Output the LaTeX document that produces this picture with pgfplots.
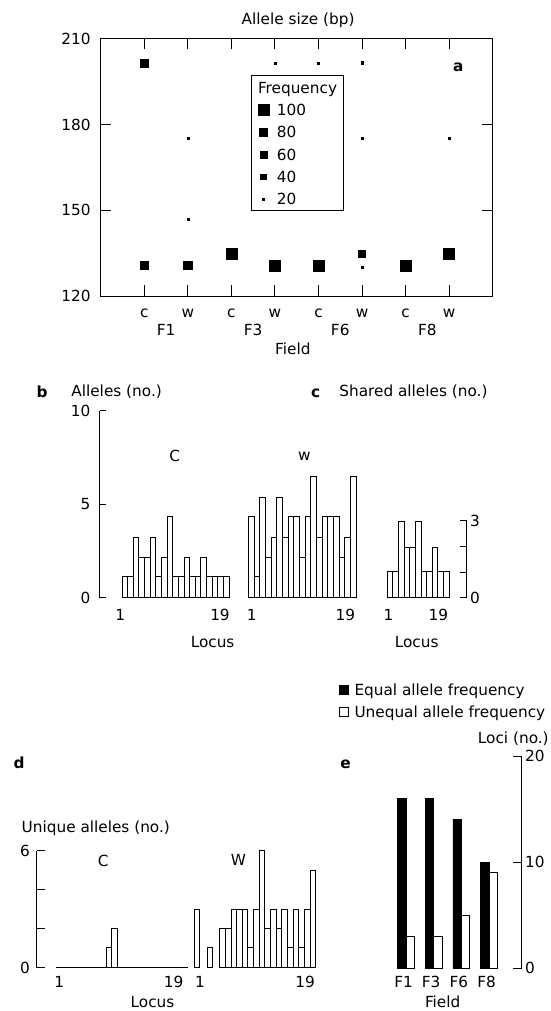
\documentclass[border=0pt]{standalone}
\usepackage{fontspec}
\setmainfont{DejaVu Sans}
\usepackage{pgfplots}
\pgfplotsset{compat=1.18}
\pgfplotsset{
  every axis/.append style={scale only axis, clip=false, anchor=south west,
    /pgf/number format/assume math mode=true,
    axis line style={line width=0.9pt, black},
    every tick/.style={black, line width=0.9pt},
    tick align=inside},
  wbar/.style={ybar, bar width=1, bar shift=0pt, fill=white, draw=black, line width=0.9pt},
}
\begin{document}
\fontsize{15.3}{18}\selectfont
\begin{tikzpicture}[line width=0.9pt]
\useasboundingbox (0,0) rectangle (550pt,1011pt);

% ---------------- panel a ----------------
\begin{axis}[at={(100.7pt,715pt)}, width=392pt, height=257.3pt,
  xmin=0, xmax=9, ymin=120, ymax=210,
  xtick={1,...,8}, xticklabels={c,w,c,w,c,w,c,w},
  ytick={120,150,180,210}, major tick length=10.5pt,
  xticklabel style={anchor=base, inner sep=0pt, yshift=-21.5pt},
  yticklabel style={anchor=east, inner sep=0pt, xshift=-10pt},
  legend style={at={(0.401,0.7478)}, anchor=north west, draw=none, fill=none,
    inner sep=0pt, outer sep=0pt, row sep=7.25pt, column sep=8.1pt,
    nodes={inner sep=0pt, text height=12pt, text depth=3pt, anchor=base west}},
  legend cell align=left,
  legend image code/.code={\draw[#1] plot coordinates {(0pt,5.6pt)};}]
\addplot[only marks, mark=square*, mark size=5.45pt, forget plot] coordinates {(3,134.7) (4,130.5) (5,130.5) (7,130.7) (8,134.8)};
\addplot[only marks, mark=square*, mark size=4.25pt, forget plot] coordinates {(1,130.8) (2,130.8)};
\addplot[only marks, mark=square*, mark size=3.65pt, forget plot] coordinates {(1,201.4) (6,134.8)};
\addplot[only marks, mark=square*, mark size=1.05pt, forget plot] coordinates {(2,175.2) (2,146.9) (4,201.4) (5,201.4) (6,201.6) (6,175.2) (6,130.2) (8,175.3)};
\addlegendimage{only marks, mark=square*, mark size=5.45pt}\addlegendentry{100}
\addlegendimage{only marks, mark=square*, mark size=4.0pt}\addlegendentry{80}
\addlegendimage{only marks, mark=square*, mark size=3.6pt}\addlegendentry{60}
\addlegendimage{only marks, mark=square*, mark size=2.7pt}\addlegendentry{40}
\addlegendimage{only marks, mark=square*, mark size=1.0pt}\addlegendentry{20}
\node[anchor=base] at (axis cs:1.5,120) [yshift=-39.6pt] {F1};
\node[anchor=base] at (axis cs:3.5,120) [yshift=-39.6pt] {F3};
\node[anchor=base] at (axis cs:5.5,120) [yshift=-39.6pt] {F6};
\node[anchor=base] at (axis cs:7.5,120) [yshift=-39.6pt] {F8};
\end{axis}
\draw[line width=0.9pt] (251.5pt,935.7pt) rectangle (343pt,800.3pt);
\node[anchor=base west, inner sep=0pt] at (257.8pt,917.1pt) {Frequency};
\node[anchor=base, inner sep=0pt] at (298.1pt,986.1pt) {Allele size (bp)};
\node[anchor=base, inner sep=0pt] at (458.3pt,939.5pt) {\bfseries a};
\node[anchor=base, inner sep=0pt] at (292.9pt,656.1pt) {Field};

% ---------------- panel b ----------------
\begin{axis}[at={(99.7pt,413.3pt)}, width=129.3pt, height=187pt,
  xmin=-3.46, xmax=19.5, ymin=0, ymax=10,
  axis y line*=left, axis x line*=bottom, x axis line style={draw=none},
  xtick={0.2,17.9}, xticklabels={1,19}, xtick style={draw=none},
  ytick={0,5,10}, major tick length=6.7pt,
  xticklabel style={anchor=base, inner sep=0pt, yshift=-23.2pt},
  yticklabel style={anchor=east, inner sep=0pt, xshift=-9.2pt}]
\addplot[wbar] coordinates {(1,1.12) (2,1.12) (3,3.24) (4,2.16) (5,2.16) (6,3.24) (7,1.12) (8,2.16) (9,4.35) (10,1.12) (11,1.12) (12,2.16) (13,1.12) (14,1.12) (15,2.16) (16,1.12) (17,1.12) (18,1.12) (19,1.12)};
\end{axis}
\begin{axis}[at={(248.3pt,413.3pt)}, width=107.7pt, height=187pt,
  xmin=0.5, xmax=19.5, ymin=0, ymax=10,
  axis y line=none, axis x line*=bottom, x axis line style={draw=none},
  xtick={1.12,17.64}, xticklabels={1,19}, xtick style={draw=none},
  xticklabel style={anchor=base, inner sep=0pt, yshift=-23.2pt}]
\addplot[wbar] coordinates {(1,4.35) (2,1.12) (3,5.37) (4,2.16) (5,3.24) (6,5.37) (7,3.24) (8,4.35) (9,4.35) (10,2.16) (11,4.35) (12,6.47) (13,3.24) (14,4.35) (15,4.35) (16,4.35) (17,2.16) (18,3.24) (19,6.47)};
\end{axis}
\node[anchor=base, inner sep=0pt] at (42.1pt,613.7pt) {\bfseries b};
\node[anchor=base, inner sep=0pt] at (116.6pt,614pt) {Alleles (no.)};
\node[anchor=base, inner sep=0pt] at (174.7pt,549.4pt) {C};
\node[anchor=base, inner sep=0pt] at (304.5pt,550.1pt) {w};
\node[anchor=base, inner sep=0pt] at (212.6pt,363.7pt) {Locus};

% ---------------- panel c ----------------
\begin{axis}[at={(387.3pt,413.3pt)}, width=79.4pt, height=77pt,
  xmin=0.5, xmax=14.66, ymin=0, ymax=3,
  axis y line*=right, axis x line*=bottom, x axis line style={draw=none},
  xtick={0.73,9.6}, xticklabels={1,19}, xtick style={draw=none},
  ytick={0,1,2,3}, yticklabels={0,{},{},3}, major tick length=6.7pt,
  xticklabel style={anchor=base, inner sep=0pt, yshift=-23.2pt},
  yticklabel style={anchor=west, inner sep=0pt, xshift=3.3pt}]
\addplot[wbar] coordinates {(1,1.04) (2,1.04) (3,2.97) (4,1.95) (5,1.95) (6,2.97) (7,1.04) (8,1.04) (9,1.95) (10,1.04) (11,1.04)};
\end{axis}
\node[anchor=base, inner sep=0pt] at (315.7pt,613.7pt) {\bfseries c};
\node[anchor=base, inner sep=0pt] at (413.4pt,614pt) {Shared alleles (no.)};
\node[anchor=base, inner sep=0pt] at (416.7pt,363.7pt) {Locus};

% ---------------- panel d ----------------
\begin{axis}[at={(36.7pt,43.3pt)}, width=151pt, height=117pt,
  xmin=-3.77, xmax=22.96, ymin=0, ymax=6,
  axis y line*=left, axis x line*=bottom, x axis line style={draw=none},
  xtick={0.23,20.46}, xticklabels={1,19}, xtick style={draw=none},
  ytick={0,2,4,6}, yticklabels={0,{},{},6}, major tick length=8.3pt,
  xticklabel style={anchor=base, inner sep=0pt, yshift=-19.6pt},
  yticklabel style={anchor=east, inner sep=0pt, xshift=-6.7pt}]
\addplot[black, line width=0.9pt] coordinates {(-0.35,0) (22.96,0)};
\addplot[wbar] coordinates {(9,1.05) (10,2)};
\end{axis}
\begin{axis}[at={(188.6pt,43.3pt)}, width=127.1pt, height=117pt,
  xmin=-3, xmax=19.5, ymin=0, ymax=6,
  axis y line=none, axis x line*=bottom, x axis line style={draw=none},
  xtick={-0.98,17.64}, xticklabels={1,19}, xtick style={draw=none},
  xticklabel style={anchor=base, inner sep=0pt, yshift=-19.6pt}]
\addplot[wbar, bar shift=-14.3pt] coordinates {(1,3)};
\addplot[wbar, bar shift=-6.95pt] coordinates {(2,1.05)};
\addplot[wbar] coordinates {(3,2) (4,2) (5,3) (6,3) (7,3) (8,1.05) (9,3) (10,6) (11,2) (12,3) (13,2) (14,3) (15,1.05) (16,3) (17,1.05) (18,3) (19,5)};
\end{axis}
\node[anchor=base, inner sep=0pt] at (19pt,242.7pt) {\bfseries d};
\node[anchor=base, inner sep=0pt] at (95.8pt,178.7pt) {Unique alleles (no.)};
\node[anchor=base, inner sep=0pt] at (103.3pt,144.7pt) {C};
\node[anchor=base, inner sep=0pt] at (238.5pt,145.4pt) {W};
\node[anchor=base, inner sep=0pt] at (152.5pt,3.7pt) {Locus};

% ---------------- panel e ----------------
\begin{axis}[at={(392.2pt,42.7pt)}, width=129.5pt, height=212.3pt,
  xmin=0.5, xmax=5.18, ymin=0, ymax=20,
  axis y line*=right, axis x line*=bottom, x axis line style={draw=none},
  xtick={1,2,3,4}, xticklabels={F1,F3,F6,F8}, xtick style={draw=none},
  ytick={0,10,20}, major tick length=8.3pt,
  xticklabel style={anchor=base, inner sep=0pt, yshift=-19pt, xshift=-2.5pt},
  yticklabel style={anchor=west, inner sep=0pt, xshift=3.3pt},
  legend style={at={(-0.4085,1.3363)}, anchor=north west, draw=none, fill=none,
    inner sep=0pt, outer sep=0pt, row sep=8.3pt, column sep=5.5pt,
    nodes={inner sep=0pt, text height=11pt, text depth=3pt, anchor=base west}},
  legend cell align=left,
  legend image code/.code={\draw[#1,/tikz/.cd,line width=0.9pt] (0pt,1.2pt) rectangle (8.8pt,10pt);}]
\addplot[ybar, bar width=8.4pt, bar shift=-4.2pt, fill=black, draw=black, line width=0.9pt] coordinates {(1,16) (2,16) (3,14) (4,10)};
\addlegendentry{Equal allele frequency}
\addplot[ybar, bar width=8.4pt, bar shift=4.2pt, fill=white, draw=black, line width=0.9pt] coordinates {(1,3) (2,3) (3,5) (4,9)};
\addlegendentry{Unequal allele frequency}
\end{axis}
\node[anchor=base, inner sep=0pt] at (345.5pt,242.7pt) {\bfseries e};
\node[anchor=base, inner sep=0pt] at (513.3pt,267.1pt) {Loci (no.)};
\node[anchor=base, inner sep=0pt] at (442.7pt,3.7pt) {Field};
\end{tikzpicture}
\end{document}
